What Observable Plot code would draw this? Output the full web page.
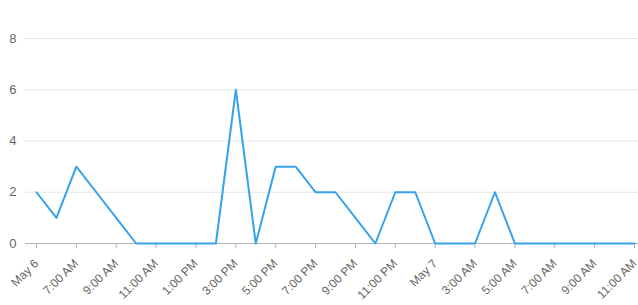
<!DOCTYPE html>
<html><head><meta charset="utf-8">
<script src="https://cdn.jsdelivr.net/npm/d3@7"></script>
<script src="https://cdn.jsdelivr.net/npm/@observablehq/plot@0.6"></script>
<style>
body{margin:0;background:#fff;}
svg{display:block;}
</style>
</head><body><div id="chart"></div>
<script>
// Hourly counts starting May 6, 5:00 AM through May 7, 11:00 AM
const startTime = "2019-05-06T05:00:00Z";
const counts = [2,1,3,2,1,0,0,0,0,0,6,0,3,3,2,2,1,0,2,2,0,0,0,2,0,0,0,0,0,0,0];
const tickLabels = ["May 6","7:00 AM","9:00 AM","11:00 AM","1:00 PM","3:00 PM","5:00 PM","7:00 PM","9:00 PM","11:00 PM","May 7","3:00 AM","5:00 AM","7:00 AM","9:00 AM","11:00 AM"];
const yTicks = [0,2,4,6,8];

const t0 = new Date(startTime).getTime();
const data = counts.map((v, i) => ({t: new Date(t0 + i * 3600e3), v}));
const tickTimes = tickLabels.map((_, i) => new Date(t0 + i * 2 * 3600e3));
const labelOf = new Map(tickTimes.map((d, i) => [+d, tickLabels[i]]));

const chart = Plot.plot({
  width: 638,
  height: 305,
  marginLeft: 36,
  marginRight: 4,
  marginTop: 38,
  marginBottom: 62,
  style: {fontFamily: "'Liberation Sans', Arial, sans-serif", fontSize: "12px", color: "#666", background: "#fff"},
  x: {type: "utc", domain: [data[0].t, data[data.length - 1].t], label: null},
  y: {domain: [0, 8], label: null},
  marks: [
    Plot.ruleY(yTicks.filter(d => d > 0), {stroke: "#e6e6e6", strokeWidth: 1, insetLeft: -11, insetRight: -4}),
    Plot.ruleY([0], {stroke: "#b3b3b3", strokeWidth: 1, insetLeft: -11, insetRight: -4}),
    Plot.axisY({ticks: yTicks, tickSize: 0, tickPadding: 20, fontSize: 13, fill: "#666", label: null}),
    Plot.axisX({ticks: tickTimes, tickFormat: d => labelOf.get(+d), tickRotate: -45, tickSize: 5, tickPadding: 13, stroke: "#b3b3b3", fill: "#666", fontSize: 12, label: null}),
    Plot.line(data, {x: "t", y: "v", stroke: "#36a2eb", strokeWidth: 2})
  ]
});
document.getElementById("chart").appendChild(chart);
</script>
</body></html>
